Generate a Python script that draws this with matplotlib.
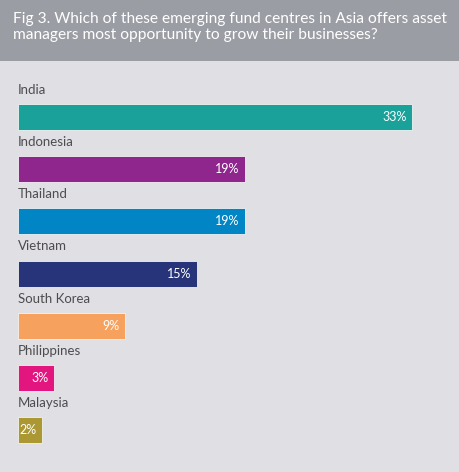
import matplotlib.pyplot as plt
from matplotlib.patches import Rectangle

countries = ["India", "Indonesia", "Thailand", "Vietnam", "South Korea", "Philippines", "Malaysia"]
shares = [33, 19, 19, 15, 9, 3, 2]
colors = ["#1aa19a", "#8e268e", "#0285c5", "#27347a", "#f7a15e", "#e3157f", "#ab9832"]
title = ("Fig 3. Which of these emerging fund centres in Asia offers asset\n"
         "managers most opportunity to grow their businesses?")

W, H = 459, 472
fig = plt.figure(figsize=(W / 100, H / 100), dpi=100)
fig.patch.set_facecolor("#dfdfe4")

# grey title band
fig.patches.append(Rectangle((0, 1 - 61 / H), 1, 61 / H, transform=fig.transFigure,
                             facecolor="#9b9da4", edgecolor="none", zorder=0))
fig.text(13 / W, 1 - 12 / H, title, color="white", fontsize=11.2, family="Lato",
         va="top", ha="left", linespacing=1.2)

# axes: 1% ~ 11.94 px, bar pitch ~52.2 px
ax = fig.add_axes([18 / W, 0, 1 - 18 / W, 1 - 61 / H])
ax.set_facecolor("none")
ax.set_xlim(0, (W - 18) / 11.94)
ax.set_ylim(6.80, -1.073)
ax.axis("off")

y = list(range(len(countries)))
ax.barh(y, shares, height=0.5, color=colors, edgecolor="#f2f2f2", linewidth=0.6, zorder=1)

for i, (name, v) in enumerate(zip(countries, shares)):
    ax.text(0, i - 0.52, name, color="#4d4d50", fontsize=9.5, family="Lato",
            ha="left", va="center")
    ax.annotate(f"{v}%", (v, i), xytext=(-4, 0), textcoords="offset points",
                color="white", fontsize=9, family="Lato",
                ha="right", va="center", zorder=5)

plt.savefig("out.png", dpi=100, facecolor=fig.get_facecolor())
